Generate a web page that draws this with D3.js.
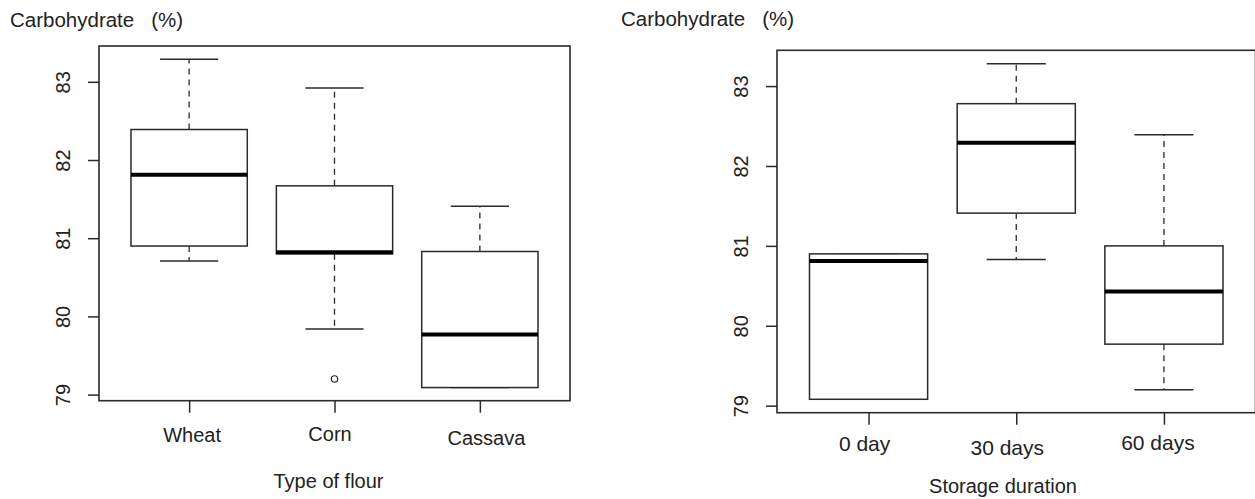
<!DOCTYPE html>
<html>
<head>
<meta charset="utf-8">
<script src="https://cdn.jsdelivr.net/npm/d3@7"></script>
<style>
  html, body { margin: 0; padding: 0; background: #fff; }
  svg { display: block; font-family: "Liberation Sans", Arial, sans-serif; }
  text { fill: #222; }
</style>
</head>
<body>
<svg id="chart" width="1255" height="499"></svg>
<script>
// ---------------- DATA ----------------
const yTicks = [79, 80, 81, 82, 83];
const yLabel = "Carbohydrate   (%)";

// Panel 1: Type of flour
const flourCats   = ["Wheat", "Corn", "Cassava"];
const flourLow    = [80.71, 79.84, 79.09];
const flourQ1     = [80.90, 80.80, 79.09];
const flourMedian = [81.81, 80.82, 79.77];
const flourQ3     = [82.39, 81.67, 80.83];
const flourHigh   = [83.29, 82.92, 81.41];
const flourOutliers = [[], [79.20], []];
const flourTitle  = "Type of flour";

// Panel 2: Storage duration
const storageCats   = ["0 day", "30 days", "60 days"];
const storageLow    = [79.08, 80.83, 79.20];
const storageQ1     = [79.08, 81.41, 79.77];
const storageMedian = [80.81, 82.29, 80.43];
const storageQ3     = [80.90, 82.78, 81.00];
const storageHigh   = [80.90, 83.28, 82.39];
const storageOutliers = [[], [], []];
const storageTitle  = "Storage duration";

// ---------------- LAYOUT ----------------
const panels = [
  {
    cats: flourCats, low: flourLow, q1: flourQ1, med: flourMedian, q3: flourQ3, high: flourHigh,
    out: flourOutliers, title: flourTitle,
    frame: { x0: 99, x1: 570, y0: 46, y1: 400.7 },
    yLabelPos: { x: 10, y: 27 },
    titlePos: { x: 328.5, y: 488 },
    catFont: 20,
    catNudge: [{ dx: 2.5, y: 442 }, { dx: -5, y: 441 }, { dx: 6, y: 445 }]
  },
  {
    cats: storageCats, low: storageLow, q1: storageQ1, med: storageMedian, q3: storageQ3, high: storageHigh,
    out: storageOutliers, title: storageTitle,
    frame: { x0: 777, x1: 1255.5, y0: 50.3, y1: 412.7 },
    yLabelPos: { x: 621, y: 26 },
    titlePos: { x: 1003, y: 493 },
    catFont: 21,
    catNudge: [{ dx: -4.5, y: 451 }, { dx: -9.5, y: 455 }, { dx: -6.5, y: 450 }]
  }
];

const svg = d3.select("#chart");
const lineColor = "#2a2a2a";

panels.forEach(p => {
  const n = p.cats.length;
  const allVals = [].concat(p.low, p.high, ...p.out);
  const vmin = d3.min(allVals), vmax = d3.max(allVals);
  const ext = (vmax - vmin) * 0.04;
  const y = d3.scaleLinear().domain([vmin - ext, vmax + ext]).range([p.frame.y1, p.frame.y0]);
  const xExt = n * 0.04;
  const x = d3.scaleLinear().domain([0.5 - xExt, n + 0.5 + xExt]).range([p.frame.x0, p.frame.x1]);
  const unit = x(2) - x(1);
  const boxW = 0.8 * unit;
  const stapleW = 0.5 * boxW;

  const g = svg.append("g");

  // boxes
  p.cats.forEach((c, i) => {
    const cx = x(i + 1);
    const bg = g.append("g");
    // whiskers (dashed)
    bg.append("line")
      .attr("x1", cx).attr("x2", cx)
      .attr("y1", y(p.q3[i])).attr("y2", y(p.high[i]))
      .attr("stroke", lineColor).attr("stroke-width", 1.3).attr("stroke-dasharray", "6,5");
    bg.append("line")
      .attr("x1", cx).attr("x2", cx)
      .attr("y1", y(p.q1[i])).attr("y2", y(p.low[i]))
      .attr("stroke", lineColor).attr("stroke-width", 1.3).attr("stroke-dasharray", "6,5");
    // staples
    [p.high[i], p.low[i]].forEach(v => {
      bg.append("line")
        .attr("x1", cx - stapleW / 2).attr("x2", cx + stapleW / 2)
        .attr("y1", y(v)).attr("y2", y(v))
        .attr("stroke", lineColor).attr("stroke-width", 1.5);
    });
    // box
    bg.append("rect")
      .attr("x", cx - boxW / 2).attr("width", boxW)
      .attr("y", y(p.q3[i])).attr("height", y(p.q1[i]) - y(p.q3[i]))
      .attr("fill", "#fff").attr("stroke", lineColor).attr("stroke-width", 1.5);
    // median
    bg.append("line")
      .attr("x1", cx - boxW / 2).attr("x2", cx + boxW / 2)
      .attr("y1", y(p.med[i])).attr("y2", y(p.med[i]))
      .attr("stroke", "#000").attr("stroke-width", 4);
    // outliers
    p.out[i].forEach(v => {
      bg.append("circle")
        .attr("cx", cx).attr("cy", y(v)).attr("r", 3.2)
        .attr("fill", "none").attr("stroke", lineColor).attr("stroke-width", 1.2);
    });
  });

  // frame
  g.append("rect")
    .attr("x", p.frame.x0).attr("y", p.frame.y0)
    .attr("width", p.frame.x1 - p.frame.x0).attr("height", p.frame.y1 - p.frame.y0)
    .attr("fill", "none").attr("stroke", lineColor).attr("stroke-width", 1.6);

  // y axis
  const ya = g.append("g")
    .attr("transform", `translate(${p.frame.x0},0)`)
    .style("color", lineColor)
    .call(d3.axisLeft(y).tickValues(yTicks).tickSize(11).tickSizeOuter(0).tickFormat(d3.format("d")));
  ya.select(".domain").remove();
  ya.selectAll(".tick line").attr("stroke-width", 1.5);
  ya.selectAll(".tick text")
    .attr("transform", "rotate(-90)")
    .attr("x", 0).attr("y", -29).attr("dy", 0)
    .attr("text-anchor", "middle")
    .style("font-size", "20px")
    .style("font-family", "'Liberation Sans', Arial, sans-serif")
    .style("fill", "#222");

  // x axis
  const xa = g.append("g")
    .attr("transform", `translate(0,${p.frame.y1})`)
    .style("color", lineColor)
    .call(d3.axisBottom(x).tickValues(d3.range(1, n + 1)).tickSize(12).tickSizeOuter(0)
      .tickFormat(d => p.cats[d - 1]));
  xa.select(".domain").remove();
  xa.selectAll(".tick line").attr("stroke-width", 1.5);
  xa.selectAll(".tick text")
    .attr("x", (d, i) => p.catNudge[i].dx)
    .attr("y", (d, i) => p.catNudge[i].y - p.frame.y1)
    .attr("dy", 0)
    .attr("text-anchor", "middle")
    .style("font-size", p.catFont + "px")
    .style("font-family", "'Liberation Sans', Arial, sans-serif")
    .style("fill", "#222");

  // x title
  g.append("text")
    .attr("x", p.titlePos.x).attr("y", p.titlePos.y)
    .attr("text-anchor", "middle")
    .style("font-size", "20px")
    .text(p.title);

  // y label
  g.append("text")
    .attr("x", p.yLabelPos.x).attr("y", p.yLabelPos.y)
    .style("font-size", "20.5px")
    .style("white-space", "pre")
    .attr("xml:space", "preserve")
    .text(yLabel);
});
</script>
</body>
</html>
